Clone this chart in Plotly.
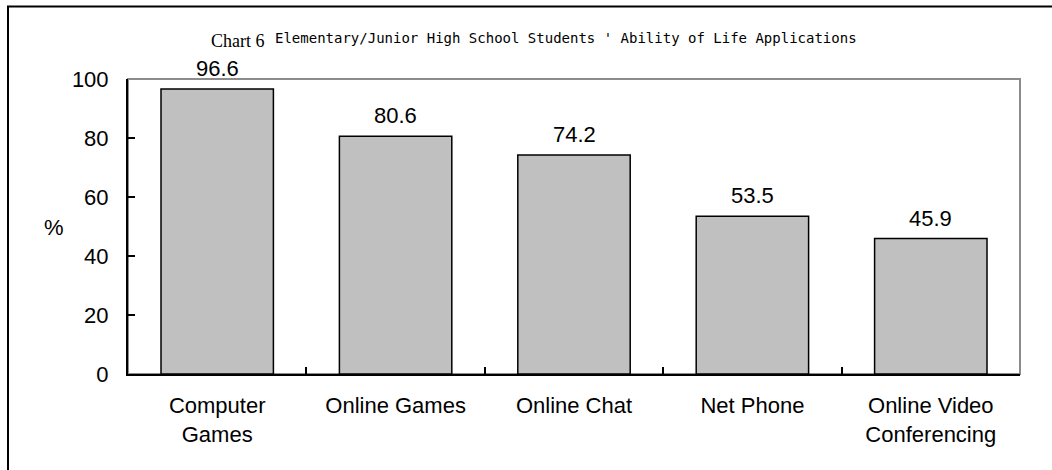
import plotly.graph_objects as go

categories = ["Computer<br>Games", "Online Games", "Online Chat", "Net Phone", "Online Video<br>Conferencing"]
values = [96.6, 80.6, 74.2, 53.5, 45.9]
y_ticks = [0, 20, 40, 60, 80, 100]

W, H = 1052, 470
L, R, T, B = 128, 32, 78.5, 96
PW, PH = W - L - R, H - T - B


def px_x(x):
    return (x - L) / PW


def px_y(y):
    return 1 + (T - y) / PH


FONT = "Liberation Sans, Arial, sans-serif"
FS = 22

fig = go.Figure()
fig.add_trace(go.Bar(
    x=categories,
    y=values,
    marker=dict(color="#c0c0c0", line=dict(color="#000000", width=1.5)),
    hoverinfo="skip",
))

annotations = []
for c, v in zip(categories, values):
    annotations.append(dict(
        x=c, y=v, xref="x", yref="y", text=f"{v:.1f}", showarrow=False,
        yanchor="bottom", yshift=6, font=dict(family=FONT, size=FS, color="#000"),
    ))

annotations += [
    dict(x=px_x(267), y=px_y(40), xref="paper", yref="paper", text="Chart 6",
         showarrow=False, xanchor="right", yanchor="middle",
         font=dict(family="Liberation Serif, Times New Roman, serif", size=18, color="#000")),
    dict(x=px_x(273), y=px_y(37), xref="paper", yref="paper",
         text="Elementary/Junior High School Students ' Ability of Life Applications",
         showarrow=False, xanchor="left", yanchor="middle",
         font=dict(family="DejaVu Sans Mono, Liberation Mono, monospace", size=14, color="#000")),
    dict(x=px_x(54), y=px_y(227), xref="paper", yref="paper", text="%",
         showarrow=False, xanchor="center", yanchor="middle",
         font=dict(family=FONT, size=FS, color="#000")),
]

shapes = [
    # gray frame around the plotting area
    dict(type="rect", xref="paper", yref="paper", x0=0, x1=1, y0=0, y1=1,
         line=dict(color="#8c8c8c", width=2), layer="below"),
    # outer chart border (open on the right and bottom)
    dict(type="rect", xref="paper", yref="paper",
         x0=px_x(8), x1=px_x(W + 20), y0=px_y(H + 20), y1=px_y(6),
         line=dict(color="#000000", width=2), layer="below"),
]

fig.update_layout(
    width=W, height=H,
    margin=dict(l=L, r=R, t=T, b=B, pad=0),
    paper_bgcolor="#ffffff", plot_bgcolor="#ffffff",
    showlegend=False,
    bargap=0.37,
    annotations=annotations,
    shapes=shapes,
    font=dict(family=FONT, size=FS, color="#000"),
)
fig.update_xaxes(
    type="category", showline=True, linecolor="#000", linewidth=2,
    ticks="inside", tickson="boundaries", ticklen=7, tickwidth=1.5, tickcolor="#000",
    showgrid=False, zeroline=False, tickfont=dict(family=FONT, size=FS, color="#000"),
    ticklabelstandoff=11,
)
fig.update_yaxes(
    range=[0, 100], tickvals=y_ticks, showline=True, linecolor="#000", linewidth=2,
    ticks="inside", ticklen=7, tickwidth=1.5, tickcolor="#000",
    showgrid=False, zeroline=False, tickfont=dict(family=FONT, size=FS, color="#000"),
    ticklabelstandoff=13,
)

fig.write_html("out.html")
